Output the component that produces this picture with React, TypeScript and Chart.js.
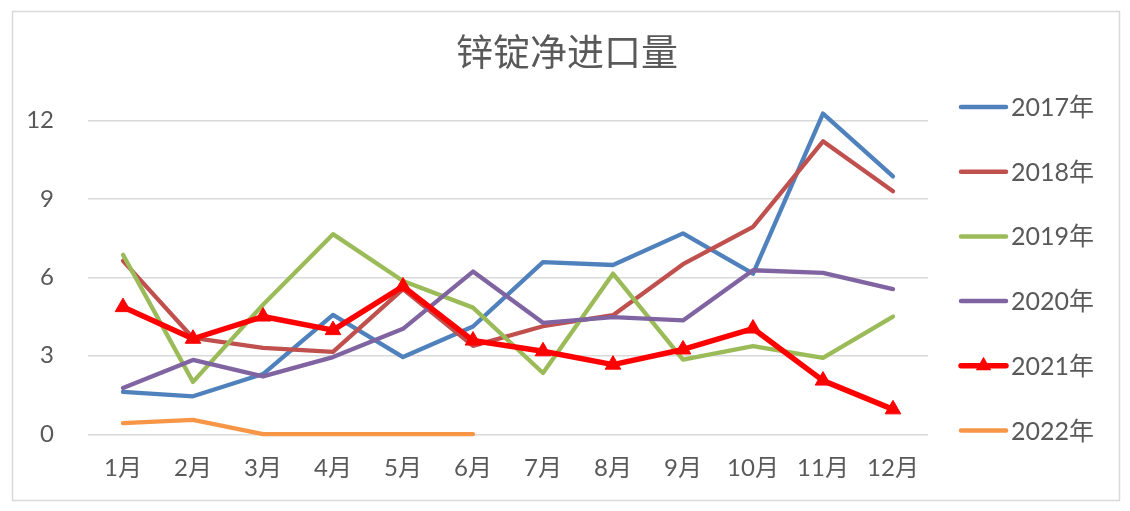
import React, { useEffect, useRef } from 'react';
import { Chart, registerables } from 'chart.js';

Chart.register(...registerables);

const titleText = '锌锭净进口量';
const months = ['1月', '2月', '3月', '4月', '5月', '6月', '7月', '8月', '9月', '10月', '11月', '12月'];
const seriesNames = ['2017年', '2018年', '2019年', '2020年', '2021年', '2022年'];
const seriesColors = ['#4F81BD', '#C0504D', '#9BBB59', '#8064A2', '#FF0000', '#F79646'];
const yTicks = [0, 3, 6, 9, 12];

const y2017 = [1.62, 1.45, 2.3, 4.56, 2.95, 4.12, 6.58, 6.47, 7.68, 6.14, 12.26, 9.86];
const y2018 = [6.63, 3.68, 3.3, 3.15, 5.55, 3.38, 4.13, 4.55, 6.5, 7.93, 11.2, 9.29];
const y2019 = [6.86, 2.0, 4.95, 7.65, 5.86, 4.84, 2.34, 6.14, 2.85, 3.37, 2.92, 4.5];
const y2020 = [1.77, 2.84, 2.21, 2.95, 4.03, 6.22, 4.26, 4.48, 4.35, 6.27, 6.17, 5.55];
const y2021 = [4.86, 3.65, 4.5, 3.98, 5.65, 3.58, 3.17, 2.66, 3.24, 4.04, 2.05, 0.95];
const y2022 = [0.42, 0.55, 0, 0, 0, 0, null, null, null, null, null, null];

const seriesValues = [y2017, y2018, y2019, y2020, y2021, y2022];
const markerSeries = '2021年';

const FONT = 'Lato, "Noto Sans CJK SC", sans-serif';
const TEXT_COLOR = '#595959';

export default function App() {
  const ref = useRef<HTMLCanvasElement>(null);

  useEffect(() => {
    const canvas = ref.current;
    if (!canvas) return;

    const datasets = seriesNames.map((name, i) => {
      const isMarker = name === markerSeries;
      return {
        label: name,
        data: seriesValues[i],
        borderColor: seriesColors[i],
        backgroundColor: seriesColors[i],
        borderWidth: isMarker ? 5.5 : 4.3,
        pointStyle: isMarker ? 'triangle' : 'circle',
        pointRadius: isMarker ? 9 : 0,
        pointBorderWidth: 1,
        pointBackgroundColor: seriesColors[i],
        pointBorderColor: seriesColors[i],
        tension: 0,
        clip: false as any,
        spanGaps: false,
        order: seriesNames.length - i,
        borderCapStyle: 'round' as const,
        borderJoinStyle: 'round' as const,
      };
    });

    const framePlugin = {
      id: 'frame',
      beforeDraw(chart: any) {
        const ctx = chart.ctx;
        ctx.save();
        ctx.fillStyle = '#ffffff';
        ctx.fillRect(0, 0, chart.width, chart.height);
        ctx.strokeStyle = '#d9d9d9';
        ctx.lineWidth = 1.5;
        ctx.strokeRect(12.5, 11.5, 1107, 489);
        ctx.restore();
      },
    };

    const sideLegend = {
      id: 'sideLegend',
      afterDraw(chart: any) {
        const ctx = chart.ctx;
        ctx.save();
        chart.data.datasets.forEach((ds: any, i: number) => {
          const y = 107 + i * 64.7;
          ctx.strokeStyle = ds.borderColor;
          ctx.lineWidth = ds.label === markerSeries ? 5.5 : 4.5;
          ctx.lineCap = 'round';
          ctx.beginPath();
          ctx.moveTo(961, y);
          ctx.lineTo(1006, y);
          ctx.stroke();
          if (ds.label === markerSeries) {
            const r = 9;
            const cx = 983.5;
            ctx.fillStyle = ds.borderColor;
            ctx.beginPath();
            ctx.moveTo(cx, y - r);
            ctx.lineTo(cx + r * Math.sin(Math.PI / 3), y + r / 2);
            ctx.lineTo(cx - r * Math.sin(Math.PI / 3), y + r / 2);
            ctx.closePath();
            ctx.fill();
          }
          ctx.fillStyle = TEXT_COLOR;
          ctx.font = `25px ${FONT}`;
          ctx.textBaseline = 'middle';
          ctx.textAlign = 'left';
          ctx.fillText(ds.label, 1011, y + 1);
        });
        ctx.restore();
      },
    };

    const chart = new Chart(canvas, {
      type: 'line',
      data: { labels: months, datasets: datasets as any },
      options: {
        responsive: false,
        animation: false,
        layout: { padding: { left: 4, right: 0, top: 0, bottom: 8 } },
        plugins: {
          legend: { display: false },
          tooltip: { enabled: false },
          title: {
            display: true,
            text: titleText,
            color: TEXT_COLOR,
            font: { family: '"Noto Sans CJK SC", sans-serif', size: 37, weight: 'normal', lineHeight: 1.2 },
            padding: { top: 30, bottom: 46 },
          },
        },
        scales: {
          x: {
            offset: true,
            grid: { display: false, drawTicks: false },
            border: { display: false },
            ticks: {
              color: TEXT_COLOR,
              font: { family: FONT, size: 24, lineHeight: 1.2 },
              padding: 20,
              autoSkip: false,
              maxRotation: 0,
              minRotation: 0,
            },
          },
          y: {
            min: 0,
            max: 12,
            afterBuildTicks(scale: any) {
              scale.ticks = yTicks.map((v) => ({ value: v }));
            },
            afterFit(scale: any) {
              scale.width = 84;
            },
            grid: { color: '#d9d9d9', lineWidth: 1.4, drawTicks: false },
            border: { display: false },
            ticks: {
              color: TEXT_COLOR,
              font: { family: FONT, size: 24, lineHeight: 1.2 },
              padding: 34,
            },
          },
          yRight: {
            position: 'right',
            display: true,
            grid: { display: false, drawTicks: false },
            border: { display: false },
            ticks: { display: false },
            afterFit(scale: any) {
              scale.width = 202;
            },
          },
        },
      },
      plugins: [framePlugin, sideLegend],
    });

    return () => chart.destroy();
  }, []);

  return (
    <div style={{ position: 'absolute', left: 0, top: 0, width: 1130, height: 511 }}>
      <canvas ref={ref} width={1130} height={511} style={{ width: 1130, height: 511, display: 'block' }} />
    </div>
  );
}
